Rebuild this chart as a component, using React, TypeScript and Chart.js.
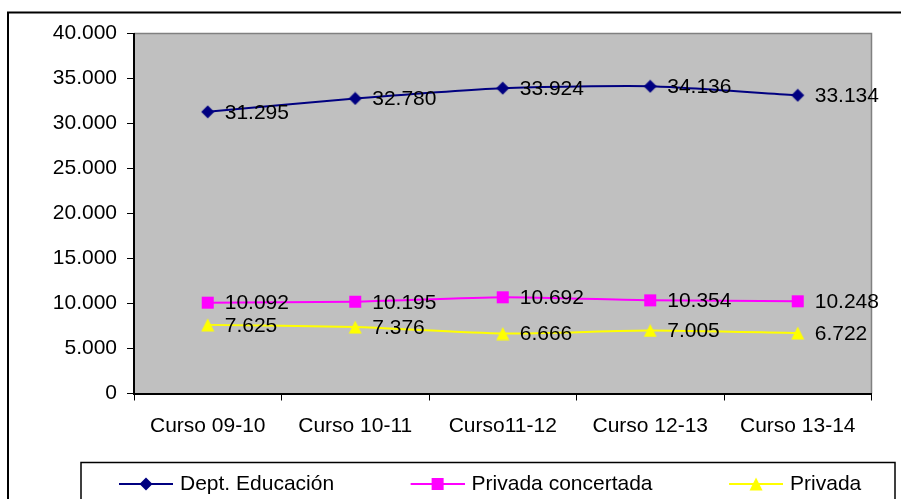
import React, { useEffect, useRef } from 'react';
import { Chart, registerables } from 'chart.js';

Chart.register(...registerables);

const categories = ['Curso 09-10', 'Curso 10-11', 'Curso11-12', 'Curso 12-13', 'Curso 13-14'];
const deptEducacion = [31295, 32780, 33924, 34136, 33134];
const privadaConcertada = [10092, 10195, 10692, 10354, 10248];
const privada = [7625, 7376, 6666, 7005, 6722];
const seriesLabels = ['Dept. Educación', 'Privada concertada', 'Privada'];
const seriesColors = ['#000080', '#FF00FF', '#FFFF00'];
const seriesMarkers = ['diamond', 'square', 'triangle'];
const yMin = 0;
const yMax = 40000;
const yStep = 5000;

const FONT = "'Liberation Sans', Arial, sans-serif";
const FS = 21;

const fmt = (v: number) => String(Math.round(v)).replace(/\B(?=(\d{3})+(?!\d))/g, '.');

function drawMarker(g: CanvasRenderingContext2D, kind: string, cx: number, cy: number, color: string) {
  g.fillStyle = color;
  g.beginPath();
  if (kind === 'diamond') {
    g.moveTo(cx, cy - 6.5);
    g.lineTo(cx + 6.5, cy);
    g.lineTo(cx, cy + 6.5);
    g.lineTo(cx - 6.5, cy);
  } else if (kind === 'square') {
    g.rect(cx - 6, cy - 6, 12, 12);
  } else {
    g.moveTo(cx, cy - 6.5);
    g.lineTo(cx + 6.5, cy + 6.5);
    g.lineTo(cx - 6.5, cy + 6.5);
  }
  g.closePath();
  g.fill();
}

function markerImage(kind: string, color: string) {
  const c = document.createElement('canvas');
  c.width = 14;
  c.height = 14;
  const g = c.getContext('2d')!;
  drawMarker(g, kind, 7, 7, color);
  return c;
}

const LEG_GAP = 78;
const LEG_LINE = 54;

function legendImage(kind: string, color: string) {
  const c = document.createElement('canvas');
  c.width = LEG_GAP + LEG_LINE;
  c.height = 16;
  const g = c.getContext('2d')!;
  g.strokeStyle = color;
  g.lineWidth = 2;
  g.beginPath();
  g.moveTo(LEG_GAP, 8);
  g.lineTo(LEG_GAP + LEG_LINE, 8);
  g.stroke();
  drawMarker(g, kind, LEG_GAP + LEG_LINE / 2, 8, color);
  return c;
}

const decorPlugin = {
  id: 'decor',
  beforeDraw(chart: any) {
    const { ctx, chartArea: a } = chart;
    ctx.save();
    ctx.fillStyle = '#FFFFFF';
    ctx.fillRect(0, 0, chart.width, chart.height);
    ctx.fillStyle = '#C0C0C0';
    ctx.fillRect(a.left, a.top, a.right - a.left, a.bottom - a.top);
    ctx.strokeStyle = '#808080';
    ctx.lineWidth = 1.5;
    ctx.beginPath();
    ctx.moveTo(a.left, a.top);
    ctx.lineTo(a.right, a.top);
    ctx.lineTo(a.right, a.bottom);
    ctx.stroke();
    // outer frame of the chart object
    ctx.strokeStyle = '#000000';
    ctx.lineWidth = 2;
    ctx.beginPath();
    ctx.moveTo(8, chart.height + 5);
    ctx.lineTo(8, 12.5);
    ctx.lineTo(chart.width + 5, 12.5);
    ctx.stroke();
    // legend frame
    ctx.lineWidth = 1.5;
    ctx.strokeRect(81, 462.5, 814, 100);
    ctx.restore();
  },
};

const labelsPlugin = {
  id: 'valueLabels',
  afterDatasetsDraw(chart: any) {
    const { ctx } = chart;
    ctx.save();
    ctx.font = `${FS}px ${FONT}`;
    ctx.fillStyle = '#000000';
    ctx.textAlign = 'left';
    ctx.textBaseline = 'middle';
    chart.data.datasets.forEach((ds: any, i: number) => {
      const meta = chart.getDatasetMeta(i);
      meta.data.forEach((pt: any, j: number) => {
        ctx.fillText(fmt(ds.data[j]), pt.x + 17, pt.y + 1);
      });
    });
    ctx.restore();
  },
};

export default function App() {
  const ref = useRef<HTMLCanvasElement | null>(null);

  useEffect(() => {
    const canvas = ref.current!;
    const seriesData = [deptEducacion, privadaConcertada, privada];
    const chart = new Chart(canvas, {
      type: 'line',
      data: {
        labels: categories,
        datasets: seriesData.map((d, i) => ({
          label: seriesLabels[i],
          data: d,
          borderColor: seriesColors[i],
          backgroundColor: seriesColors[i],
          borderWidth: 2,
          tension: 0.2,
          pointStyle: markerImage(seriesMarkers[i], seriesColors[i]) as any,
          pointRadius: 7,
          fill: false,
        })),
      },
      options: {
        responsive: false,
        animation: false,
        events: [],
        layout: { padding: { left: 42.5, right: 29.5, top: 33.5, bottom: 15.5 } },
        scales: {
          x: {
            offset: true,
            grid: { offset: true, drawOnChartArea: false, drawTicks: true, tickLength: 7, color: '#000000', lineWidth: 1 },
            border: { display: true, color: '#000000', width: 2 },
            ticks: { color: '#000000', font: { family: FONT, size: FS }, padding: 13, maxRotation: 0, autoSkip: false },
            afterFit: (s: any) => { s.height = 78; },
          },
          y: {
            min: yMin,
            max: yMax,
            grid: { drawOnChartArea: false, drawTicks: true, tickLength: 7, color: '#000000', lineWidth: 1 },
            border: { display: true, color: '#000000', width: 2 },
            ticks: { stepSize: yStep, color: '#000000', font: { family: FONT, size: FS }, padding: 10, callback: (v: any) => fmt(Number(v)) },
            afterFit: (s: any) => { s.width = 91.5; },
          },
        },
        plugins: {
          tooltip: { enabled: false },
          title: { display: false },
          legend: {
            display: true,
            position: 'bottom',
            align: 'start',
            labels: {
              usePointStyle: true,
              pointStyleWidth: LEG_GAP + LEG_LINE - 7,
              boxHeight: FS,
              padding: 2,
              color: '#000000',
              font: { family: FONT, size: FS },
              generateLabels: (ch: any) =>
                ch.data.datasets.map((ds: any, i: number) => ({
                  text: ds.label,
                  fillStyle: seriesColors[i],
                  strokeStyle: seriesColors[i],
                  lineWidth: 0,
                  pointStyle: legendImage(seriesMarkers[i], seriesColors[i]),
                  hidden: false,
                  datasetIndex: i,
                  fontColor: '#000000',
                })),
            },
          },
        },
      },
      plugins: [decorPlugin, labelsPlugin],
    });
    return () => chart.destroy();
  }, []);

  return (
    <div style={{ position: 'fixed', left: 0, top: 0, width: 901, height: 499, overflow: 'hidden', background: '#fff' }}>
      <canvas ref={ref} width={901} height={520} style={{ display: 'block', width: 901, height: 520 }} />
    </div>
  );
}
